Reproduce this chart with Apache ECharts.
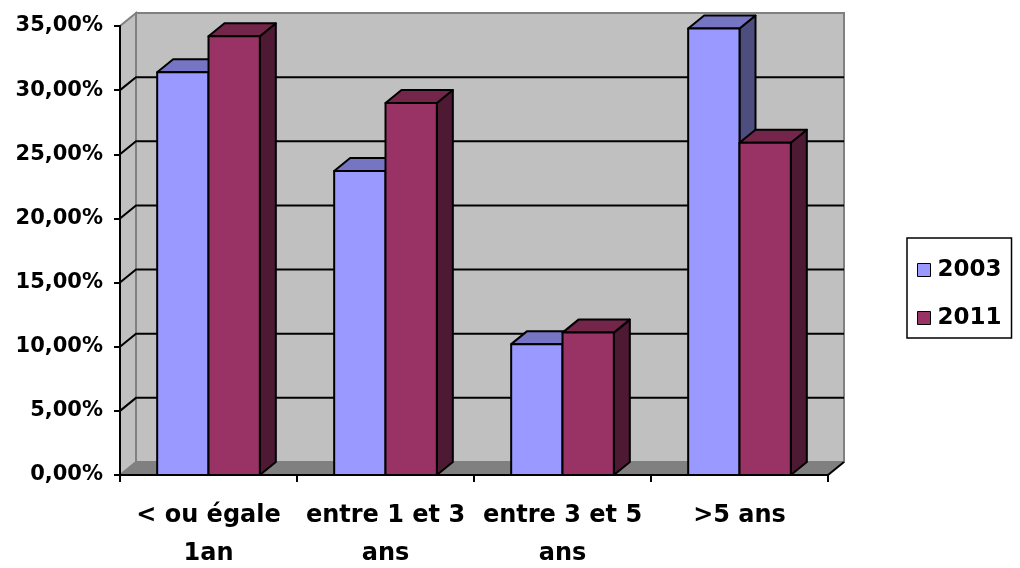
<!DOCTYPE html>
<html>
<head>
<meta charset="utf-8">
<script src="https://cdn.jsdelivr.net/npm/echarts@6/dist/echarts.min.js"></script>
<style>html,body{margin:0;padding:0;background:#fff;}#c{width:1020px;height:568px;}</style>
</head>
<body>
<div id="c"></div>
<script>
const categories = ['< ou égale\n1an', 'entre 1 et 3\nans', 'entre 3 et 5\nans', '>5 ans'];
const seriesNames = ['2003', '2011'];
const values2003 = [31.4, 23.7, 10.2, 34.8];
const values2011 = [34.2, 29.0, 11.1, 25.9];
const yTicks = [0, 5, 10, 15, 20, 25, 30, 35];
const yTickLabels = ['0,00%', '5,00%', '10,00%', '15,00%', '20,00%', '25,00%', '30,00%', '35,00%'];

const FONT = '"DejaVu Sans", sans-serif';
const DX = 16, DY = -13;
const colors = {
  '2003': { front: '#9999FF', top: '#7575C4', side: '#4D4D80' },
  '2011': { front: '#993366', top: '#732649', side: '#4D1933' }
};
const yMin = yTicks[0], yMax = yTicks[yTicks.length - 1];

function wallsItem(params, api) {
  const n = categories.length;
  const band = api.size([1, 0])[0];
  const x0 = api.coord([0, yMin])[0] - band / 2;
  const x1 = api.coord([n - 1, yMin])[0] + band / 2;
  const yb = api.coord([0, yMin])[1];
  const yt = api.coord([0, yMax])[1];
  const children = [];
  children.push({ type: 'polygon', shape: { points: [[x0 + DX, yt + DY], [x1 + DX, yt + DY], [x1 + DX, yb + DY], [x0 + DX, yb + DY]] },
    style: { fill: '#C0C0C0', stroke: '#808080', lineWidth: 2 } });
  children.push({ type: 'polygon', shape: { points: [[x0, yb], [x0, yt], [x0 + DX, yt + DY], [x0 + DX, yb + DY]] },
    style: { fill: '#C0C0C0', stroke: '#808080', lineWidth: 2 } });
  children.push({ type: 'polygon', shape: { points: [[x0, yb], [x1, yb], [x1 + DX, yb + DY], [x0 + DX, yb + DY]] },
    style: { fill: '#808080', stroke: '#808080', lineWidth: 1 } });
  children.push({ type: 'line', shape: { x1: x1, y1: yb, x2: x1 + DX, y2: yb + DY }, style: { stroke: '#000', lineWidth: 2 } });
  for (let i = 1; i < yTicks.length - 1; i++) {
    const y = api.coord([0, yTicks[i]])[1];
    children.push({ type: 'polyline', shape: { points: [[x0, y], [x0 + DX, y + DY], [x1 + DX, y + DY]] },
      style: { stroke: '#000', lineWidth: 2, fill: null } });
  }
  return { type: 'group', children: children };
}

function barItemFactory(name, offsetSign) {
  const c = colors[name];
  return function (params, api) {
    const ci = api.value(0);
    const band = api.size([1, 0])[0];
    const w = band * 0.29;
    const center = api.coord([ci, yMin])[0];
    const bx = offsetSign < 0 ? center - w : center;
    const yb = api.coord([ci, yMin])[1];
    const yv = api.coord([ci, api.value(1)])[1];
    const st = { stroke: '#000', lineWidth: 2, lineJoin: 'round' };
    return { type: 'group', children: [
      { type: 'polygon', shape: { points: [[bx + w, yv], [bx + w + DX, yv + DY], [bx + w + DX, yb + DY], [bx + w, yb]] },
        style: Object.assign({ fill: c.side }, st) },
      { type: 'polygon', shape: { points: [[bx, yv], [bx + w, yv], [bx + w + DX, yv + DY], [bx + DX, yv + DY]] },
        style: Object.assign({ fill: c.top }, st) },
      { type: 'rect', shape: { x: bx, y: yv, width: w, height: yb - yv },
        style: Object.assign({ fill: c.front }, st) }
    ] };
  };
}

const chart = echarts.init(document.getElementById('c'), null, { renderer: 'canvas' });
chart.setOption({
  animation: false,
  backgroundColor: '#fff',
  grid: { left: 120, right: 192, top: 26, bottom: 93, containLabel: false, outerBoundsMode: 'none' },
  legend: {
    orient: 'vertical', left: 907, top: 238,
    padding: [19, 10, 7, 10],
    itemWidth: 13, itemHeight: 13, itemGap: 22,
    borderColor: '#000', borderWidth: 1.5,
    textStyle: { fontFamily: FONT, fontWeight: 'bold', fontSize: 23, color: '#000', lineHeight: 26, padding: [0, 0, 0, 2] },
    data: [
      { name: '2003', icon: 'rect', itemStyle: { color: colors['2003'].front, borderColor: '#000', borderWidth: 1 } },
      { name: '2011', icon: 'rect', itemStyle: { color: colors['2011'].front, borderColor: '#000', borderWidth: 1 } }
    ]
  },
  xAxis: {
    type: 'category', data: categories, boundaryGap: true, z: 5,
    axisLine: { lineStyle: { color: '#000', width: 2 } },
    axisTick: { show: true, length: 7, lineStyle: { color: '#000', width: 2 } },
    axisLabel: { fontFamily: FONT, fontWeight: 'bold', fontSize: 24, color: '#000', lineHeight: 38, margin: 22, interval: 0 }
  },
  yAxis: {
    type: 'value', min: yMin, max: yMax, interval: 5, z: 5,
    axisLine: { show: true, lineStyle: { color: '#000', width: 2 } },
    axisTick: { show: true, length: 6, lineStyle: { color: '#000', width: 2 } },
    splitLine: { show: false },
    axisLabel: { fontFamily: FONT, fontWeight: 'bold', fontSize: 21, color: '#000', margin: 17,
      formatter: function (v) { const i = yTicks.indexOf(v); return i >= 0 ? yTickLabels[i] : ''; } }
  },
  series: [
    { type: 'custom', name: 'walls', z: 0, silent: true, renderItem: wallsItem, data: [[0, 0]], clip: false },
    { type: 'custom', name: seriesNames[0], z: 2, renderItem: barItemFactory('2003', -1), clip: false,
      data: values2003.map((v, i) => [i, v]) },
    { type: 'custom', name: seriesNames[1], z: 2, renderItem: barItemFactory('2011', 1), clip: false,
      data: values2011.map((v, i) => [i, v]) }
  ]
});
</script>
</body>
</html>
